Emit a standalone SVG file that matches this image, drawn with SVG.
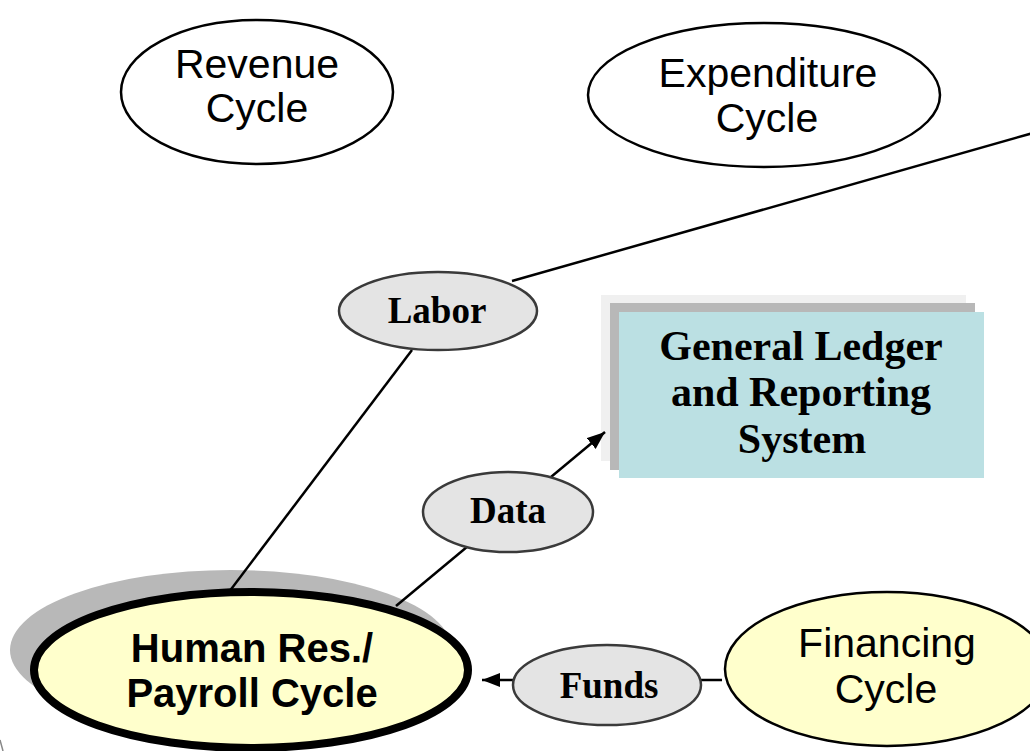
<svg xmlns="http://www.w3.org/2000/svg" width="1030" height="751" viewBox="0 0 1030 751">
<style>
.cyc{fill:#ffffff;stroke:#000;stroke-width:2.5}
.yel{fill:#ffffcc;stroke:#000;stroke-width:2.5}
.flow{fill:#e4e4e4;stroke:#3a3a3a;stroke-width:2.5}
.conn{stroke:#000;stroke-width:2.5;fill:none}
.sans{font-family:"Liberation Sans",Arial,sans-serif;font-size:41px;fill:#000;text-anchor:middle}
.sansb{font-family:"Liberation Sans",Arial,sans-serif;font-size:40px;font-weight:bold;fill:#000;text-anchor:middle}
.serb{font-family:"Liberation Serif","Times New Roman",serif;font-size:37px;font-weight:bold;fill:#000;text-anchor:middle}
.gl{font-family:"Liberation Serif","Times New Roman",serif;font-size:42px;font-weight:bold;fill:#000;text-anchor:middle}
</style>
<defs>
<marker id="arr" markerUnits="userSpaceOnUse" markerWidth="20" markerHeight="16" refX="18" refY="7" orient="auto">
<path d="M0,0 L18,7 L0,14 Z" fill="#000"/>
</marker>
</defs>
<rect width="1030" height="751" fill="#fff"/>
<g id="shadows">
<ellipse cx="231" cy="650" rx="221" ry="80" fill="#b8b8b8"/>
<rect x="601" y="295" width="365" height="166" fill="#f0f0f0"/>
<rect x="610" y="303" width="365" height="167" fill="#b8b8b8"/>
<path d="M0,740 L3,751" stroke="#888" stroke-width="1.5" fill="none"/>
</g>
<g id="connectors">
<path class="conn" d="M512,281 L1040,131"/>
<path class="conn" d="M412,350 L229,592"/>
<path class="conn" d="M396,606 L605,432" marker-end="url(#arr)"/>
<path class="conn" d="M722,680 L482,680" marker-end="url(#arr)"/>
</g>
<g id="revenue">
<ellipse class="cyc" cx="257" cy="92" rx="136" ry="72"/>
<text class="sans" x="257" y="78">Revenue</text>
<text class="sans" x="257" y="122">Cycle</text>
</g>
<g id="expenditure">
<ellipse class="cyc" cx="764" cy="95" rx="176" ry="72"/>
<text class="sans" x="768" y="87">Expenditure</text>
<text class="sans" x="767" y="132">Cycle</text>
</g>
<g id="labor">
<ellipse class="flow" cx="438" cy="311" rx="99" ry="39"/>
<text class="serb" x="437" y="323">Labor</text>
</g>
<g id="gl">
<rect x="619" y="312" width="365" height="166" fill="#bbe0e3"/>
<text class="gl" x="801" y="360">General Ledger</text>
<text class="gl" x="801" y="406">and Reporting</text>
<text class="gl" x="802" y="453">System</text>
</g>
<g id="data">
<ellipse class="flow" cx="508" cy="512" rx="85" ry="40"/>
<text class="serb" x="508" y="523">Data</text>
</g>
<g id="hr">
<ellipse cx="251" cy="670" rx="217" ry="78" fill="#ffffcc" stroke="#000" stroke-width="8"/>
<text class="sansb" x="252" y="662">Human Res./</text>
<text class="sansb" x="252" y="707">Payroll Cycle</text>
</g>
<g id="funds">
<ellipse class="flow" cx="607" cy="685" rx="94" ry="40"/>
<text class="serb" x="609" y="698">Funds</text>
</g>
<g id="financing">
<ellipse class="yel" cx="887" cy="669" rx="162" ry="77"/>
<text class="sans" x="887" y="657">Financing</text>
<text class="sans" x="886" y="703">Cycle</text>
</g>
</svg>
